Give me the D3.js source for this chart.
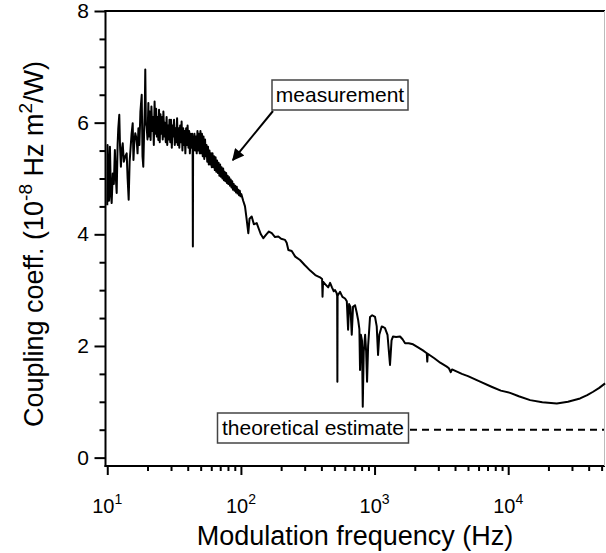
<!DOCTYPE html>
<html>
<head>
<meta charset="utf-8">
<script src="https://cdn.jsdelivr.net/npm/d3@7"></script>
<style>
  body { margin: 0; background: #fff; }
  svg { display: block; font-family: "Liberation Sans", Arial, Helvetica, sans-serif; }
</style>
</head>
<body>
<div id="chart"></div>
<script>
var freqHz = [
  // 10 - 20 Hz
  10.0, 10.05, 10.3, 10.47, 10.65, 10.79, 10.99, 11.2, 11.4, 11.6,
  11.76, 11.95, 12.09, 12.3, 12.45, 12.65, 12.82, 13.05, 13.3, 13.6,
  13.97, 14.2, 14.46, 14.7, 14.97, 15.2, 15.5, 15.7, 15.9, 16.2,
  16.6, 16.85, 17.1, 17.4, 17.7, 18.1, 18.35, 18.6, 18.9, 19.1,
  19.25, 19.45, 19.7,
  // 20 - 43 Hz
  20.0, 20.3, 20.5, 20.8, 21.1, 21.4, 21.7, 22.0, 22.3, 22.6,
  22.9, 23.2, 23.5, 23.8, 24.1, 24.4, 24.7, 25.0, 25.3, 25.7,
  26.0, 26.3, 26.7, 27.0, 27.4, 27.8, 28.1, 28.5, 28.9, 29.2,
  29.6, 30.0, 30.4, 30.8, 31.2, 31.6, 32.0, 32.4, 32.8, 33.3,
  33.7, 34.2, 34.6, 35.1, 35.5, 36.0, 36.5, 37.0, 37.4, 37.9,
  38.4, 38.9, 39.4, 39.9, 40.5, 41.0, 41.5, 42.1, 42.6, 43.2,
  // 43 - 62 Hz
  43.5, 43.7, 43.9, 44.3, 44.9, 45.5, 46.1, 46.7, 47.3, 47.9,
  48.5, 49.2, 49.8, 50.5, 51.1, 51.8, 52.5, 53.2, 53.9, 54.6,
  55.3, 56.0, 56.7, 57.5, 58.2, 59.0, 59.8, 60.5, 61.3, 62.1,
  // 63 - 110 Hz
  62.9, 63.8, 64.6, 65.4, 66.3, 67.2, 68.1, 69.0, 69.9, 70.8,
  71.7, 72.7, 73.6, 74.6, 75.5, 76.5, 77.5, 78.6, 79.6, 80.6,
  81.7, 82.8, 83.9, 85.0, 86.1, 87.2, 88.4, 89.5, 90.7, 91.9,
  93.1, 94.3, 95.6, 96.8, 98.1, 99.4, 100.7, 104, 107.3, 110,
  // 110 Hz - 53 kHz
  113.6, 116, 120.4, 125, 131.3, 136, 141, 147.2, 155, 162,
  170.2, 180, 190.6, 200, 213.9, 220, 226.5, 240, 255, 276.9,
  300, 330, 360, 390.5, 405, 408, 411.7, 430, 450, 464.8,
  480, 495, 506.6, 520, 525, 527, 529, 552, 575, 601.5,
  620, 633.8, 645, 660, 675, 690, 714.5, 735, 753, 770,
  778.6, 790, 805, 816, 830, 850, 865, 879, 895, 925,
  960, 1008, 1038, 1062, 1085, 1131, 1160, 1197, 1250, 1305,
  1340, 1375, 1450, 1552, 1620, 1692, 1800, 1941, 2100, 2300,
  2459, 2480, 2500, 2800, 3100, 3470, 3600, 3719, 3800, 4500,
  5000, 6166, 7500, 8800, 10330, 12000, 14590, 18000, 23100, 28000,
  34500, 39000, 43200, 48000, 53100
];
var coupling = [
  // 10 - 20 Hz
  4.52, 5.6, 4.6, 5.57, 4.7, 4.56, 5.09, 4.9, 5.51, 5.0,
  4.74, 5.6, 5.9, 6.14, 5.6, 5.21, 5.5, 5.63, 5.3, 5.39,
  5.45, 5.0, 4.62, 5.3, 5.57, 5.8, 5.99, 5.33, 5.6, 5.81,
  5.7, 5.45, 5.9, 5.6, 6.2, 6.5, 5.4, 5.21, 5.9, 6.3,
  6.95, 6.0, 5.93,
  // 20 - 43 Hz
  5.7, 6.35, 5.75, 6.2, 5.69, 6.29, 5.85, 6.1, 5.6, 6.38,
  5.8, 6.25, 5.75, 6.1, 5.69, 6.23, 5.65, 6.15, 5.8, 6.1,
  5.7, 6.2, 5.75, 6.0, 5.65, 6.1, 5.6, 5.95, 5.7, 6.05,
  5.65, 6.05, 5.55, 5.95, 5.75, 6.05, 5.6, 5.9, 5.65, 6.08,
  5.6, 5.9, 5.55, 5.95, 5.65, 6.02, 5.5, 5.9, 5.6, 5.85,
  5.45, 5.9, 5.6, 5.95, 5.55, 5.85, 5.45, 5.8, 5.55, 5.8,
  // 43 - 62 Hz
  5.6, 3.78, 5.75, 5.5, 5.8, 5.5, 5.75, 5.45, 5.85, 5.5,
  5.8, 5.45, 5.85, 5.45, 5.8, 5.4, 5.75, 5.35, 5.7, 5.4,
  5.6, 5.3, 5.57, 5.25, 5.5, 5.25, 5.45, 5.2, 5.45, 5.2,
  // 63 - 110 Hz
  5.4, 5.15, 5.38, 5.12, 5.32, 5.1, 5.28, 5.05, 5.25, 5.03,
  5.2, 5.0, 5.18, 4.97, 5.12, 4.95, 5.1, 4.92, 5.05, 4.9,
  5.02, 4.87, 4.98, 4.84, 4.95, 4.8, 4.9, 4.78, 4.87, 4.75,
  4.85, 4.73, 4.8, 4.7, 4.78, 4.68, 4.72, 4.6, 4.5, 4.3,
  // 110 Hz - 53 kHz
  4.02, 4.28, 4.32, 4.18, 4.2, 4.1, 4.0, 3.93, 4.0, 4.05,
  4.02, 3.95, 3.96, 3.92, 3.9, 3.85, 3.72, 3.7, 3.6, 3.54,
  3.45, 3.35, 3.27, 3.23, 3.2, 2.88, 3.15, 3.1, 3.05, 3.13,
  3.05, 2.98, 3.0, 2.95, 2.9, 1.36, 2.9, 2.97, 2.88, 2.85,
  2.8, 2.29, 2.75, 2.7, 2.2, 2.7, 2.73, 2.6, 2.47, 2.3,
  1.57, 2.2, 2.1, 0.91, 1.9, 2.2, 1.9, 1.36, 2.0, 2.52,
  2.55, 2.52, 2.35, 1.84, 2.2, 2.35, 2.34, 2.32, 2.2, 1.66,
  2.1, 2.17, 2.16, 2.17, 2.12, 2.05, 2.05, 2.03, 1.98, 1.92,
  1.87, 1.72, 1.86, 1.78, 1.7, 1.63, 1.6, 1.53, 1.58, 1.5,
  1.46, 1.36, 1.27, 1.2, 1.16, 1.1, 1.03, 0.99, 0.97, 1.0,
  1.06, 1.12, 1.18, 1.25, 1.33
];

var theoryValue = 0.5;
var yMajorTicks = [0, 2, 4, 6, 8];
var yMinorTicks = [0.5, 1, 1.5, 2.5, 3, 3.5, 4.5, 5, 5.5, 6.5, 7, 7.5];
var xDecades = [1, 2, 3, 4];          // exponents shown as 10^n
var xMinorMult = [2, 3, 4, 5, 6, 7, 8, 9];

var W = 606, H = 553;

var svg = d3.select('#chart')
  .append('svg')
    .attr('width', W)
    .attr('height', H);

/*
 * scales
 */
var x = d3.scaleLog()
  .domain([9.7, 53000])
  .range([105.5, 605]);

var y = d3.scaleLinear()
  .domain([-0.15, 8])
  .range([466, 11]);

/*
 * axes
 */
var minorX = [];
[10, 100, 1000, 10000].forEach(function (b) {
  xMinorMult.forEach(function (m) {
    if (b * m <= 53000) minorX.push(b * m);
  });
});

svg.append('g')
  .attr('transform', 'translate(0,466)')
  .call(d3.axisBottom(x).tickValues(minorX).tickSize(5).tickSizeOuter(0).tickFormat(''));

svg.append('g')
  .attr('transform', 'translate(0,466)')
  .call(d3.axisBottom(x).tickValues(xDecades.map(function (e) { return Math.pow(10, e); }))
    .tickSize(9).tickSizeOuter(0).tickFormat(''));

svg.append('g')
  .attr('transform', 'translate(105.5,0)')
  .call(d3.axisLeft(y).tickValues(yMinorTicks).tickSize(6).tickSizeOuter(0).tickFormat(''));

svg.append('g')
  .attr('transform', 'translate(105.5,0)')
  .call(d3.axisLeft(y).tickValues(yMajorTicks).tickSize(11).tickSizeOuter(0).tickFormat(''));

svg.selectAll('.tick line').attr('stroke', '#000').attr('stroke-width', 2);
svg.selectAll('.domain').remove();

// frame: left, bottom, top (black) and a faint right edge
svg.append('line')
  .attr('x1', 105.5).attr('x2', 105.5).attr('y1', 10).attr('y2', 467)
  .attr('stroke', '#000').attr('stroke-width', 2);
svg.append('line')
  .attr('x1', 104.5).attr('x2', 605).attr('y1', 466).attr('y2', 466)
  .attr('stroke', '#000').attr('stroke-width', 2);
svg.append('line')
  .attr('x1', 104.5).attr('x2', 605).attr('y1', 11).attr('y2', 11)
  .attr('stroke', '#000').attr('stroke-width', 2);
svg.append('line')
  .attr('x1', 604.5).attr('x2', 604.5).attr('y1', 11).attr('y2', 466)
  .attr('stroke', '#bbb').attr('stroke-width', 1);

// tick labels
svg.selectAll('text.ylab')
  .data(yMajorTicks)
  .enter()
  .append('text')
    .attr('class', 'ylab')
    .attr('x', 89)
    .attr('y', function (d) { return y(d) + 7; })
    .attr('text-anchor', 'end')
    .attr('font-size', 21)
    .text(function (d) { return d; });

var xl = svg.selectAll('text.xlab')
  .data(xDecades)
  .enter()
  .append('text')
    .attr('class', 'xlab')
    .attr('x', function (d) { return x(Math.pow(10, d)); })
    .attr('y', 513)
    .attr('text-anchor', 'middle')
    .attr('font-size', 20);
xl.append('tspan').text('10');
xl.append('tspan').attr('dy', -9).attr('font-size', 14).text(function (d) { return d; });

// axis titles
svg.append('text')
  .attr('x', 355)
  .attr('y', 545)
  .attr('text-anchor', 'middle')
  .attr('font-size', 27)
  .text('Modulation frequency (Hz)');

var yt = svg.append('text')
  .attr('transform', 'translate(43,244) rotate(-90)')
  .attr('text-anchor', 'middle')
  .attr('font-size', 27);
yt.append('tspan').text('Coupling coeff. (10');
yt.append('tspan').attr('dy', -11).attr('font-size', 19).text('-8');
yt.append('tspan').attr('dy', 11).text(' Hz m');
yt.append('tspan').attr('dy', -11).attr('font-size', 19).text('2');
yt.append('tspan').attr('dy', 11).text('/W)');

/*
 * the marks
 */
var line = d3.line()
  .x(function (d) { return x(d[0]); })
  .y(function (d) { return y(d[1]); });

svg.append('path')
  .datum(freqHz.map(function (f, i) { return [f, coupling[i]]; }))
  .attr('d', line)
  .attr('fill', 'none')
  .attr('stroke', '#000')
  .attr('stroke-width', 2)
  .attr('stroke-linejoin', 'round');

// theoretical estimate (dashed)
svg.append('line')
  .attr('x1', 410).attr('x2', 604)
  .attr('y1', y(theoryValue)).attr('y2', y(theoryValue))
  .attr('stroke', '#000').attr('stroke-width', 2)
  .attr('stroke-dasharray', '7,5');

/*
 * annotations
 */
svg.append('defs').append('marker')
  .attr('id', 'head')
  .attr('viewBox', '0 0 10 10')
  .attr('refX', 9).attr('refY', 5)
  .attr('markerWidth', 7).attr('markerHeight', 6)
  .attr('markerUnits', 'strokeWidth')
  .attr('orient', 'auto')
  .append('path')
    .attr('d', 'M0,0 L10,5 L0,10 Z')
    .attr('fill', '#000');

svg.append('line')
  .attr('x1', 273).attr('y1', 111)
  .attr('x2', x(87)).attr('y2', y(5.33))
  .attr('stroke', '#000').attr('stroke-width', 2)
  .attr('marker-end', 'url(#head)');

function labelBox(x0, y0, w, h, txt) {
  svg.append('rect')
    .attr('x', x0).attr('y', y0).attr('width', w).attr('height', h)
    .attr('fill', '#fff').attr('stroke', '#444').attr('stroke-width', 1.5);
  svg.append('text')
    .attr('x', x0 + w / 2).attr('y', y0 + h - 8)
    .attr('text-anchor', 'middle')
    .attr('font-size', 21)
    .text(txt);
}
labelBox(272, 80, 136, 30, 'measurement');
labelBox(217.5, 413, 191, 30, 'theoretical estimate');
</script>
</body>
</html>
